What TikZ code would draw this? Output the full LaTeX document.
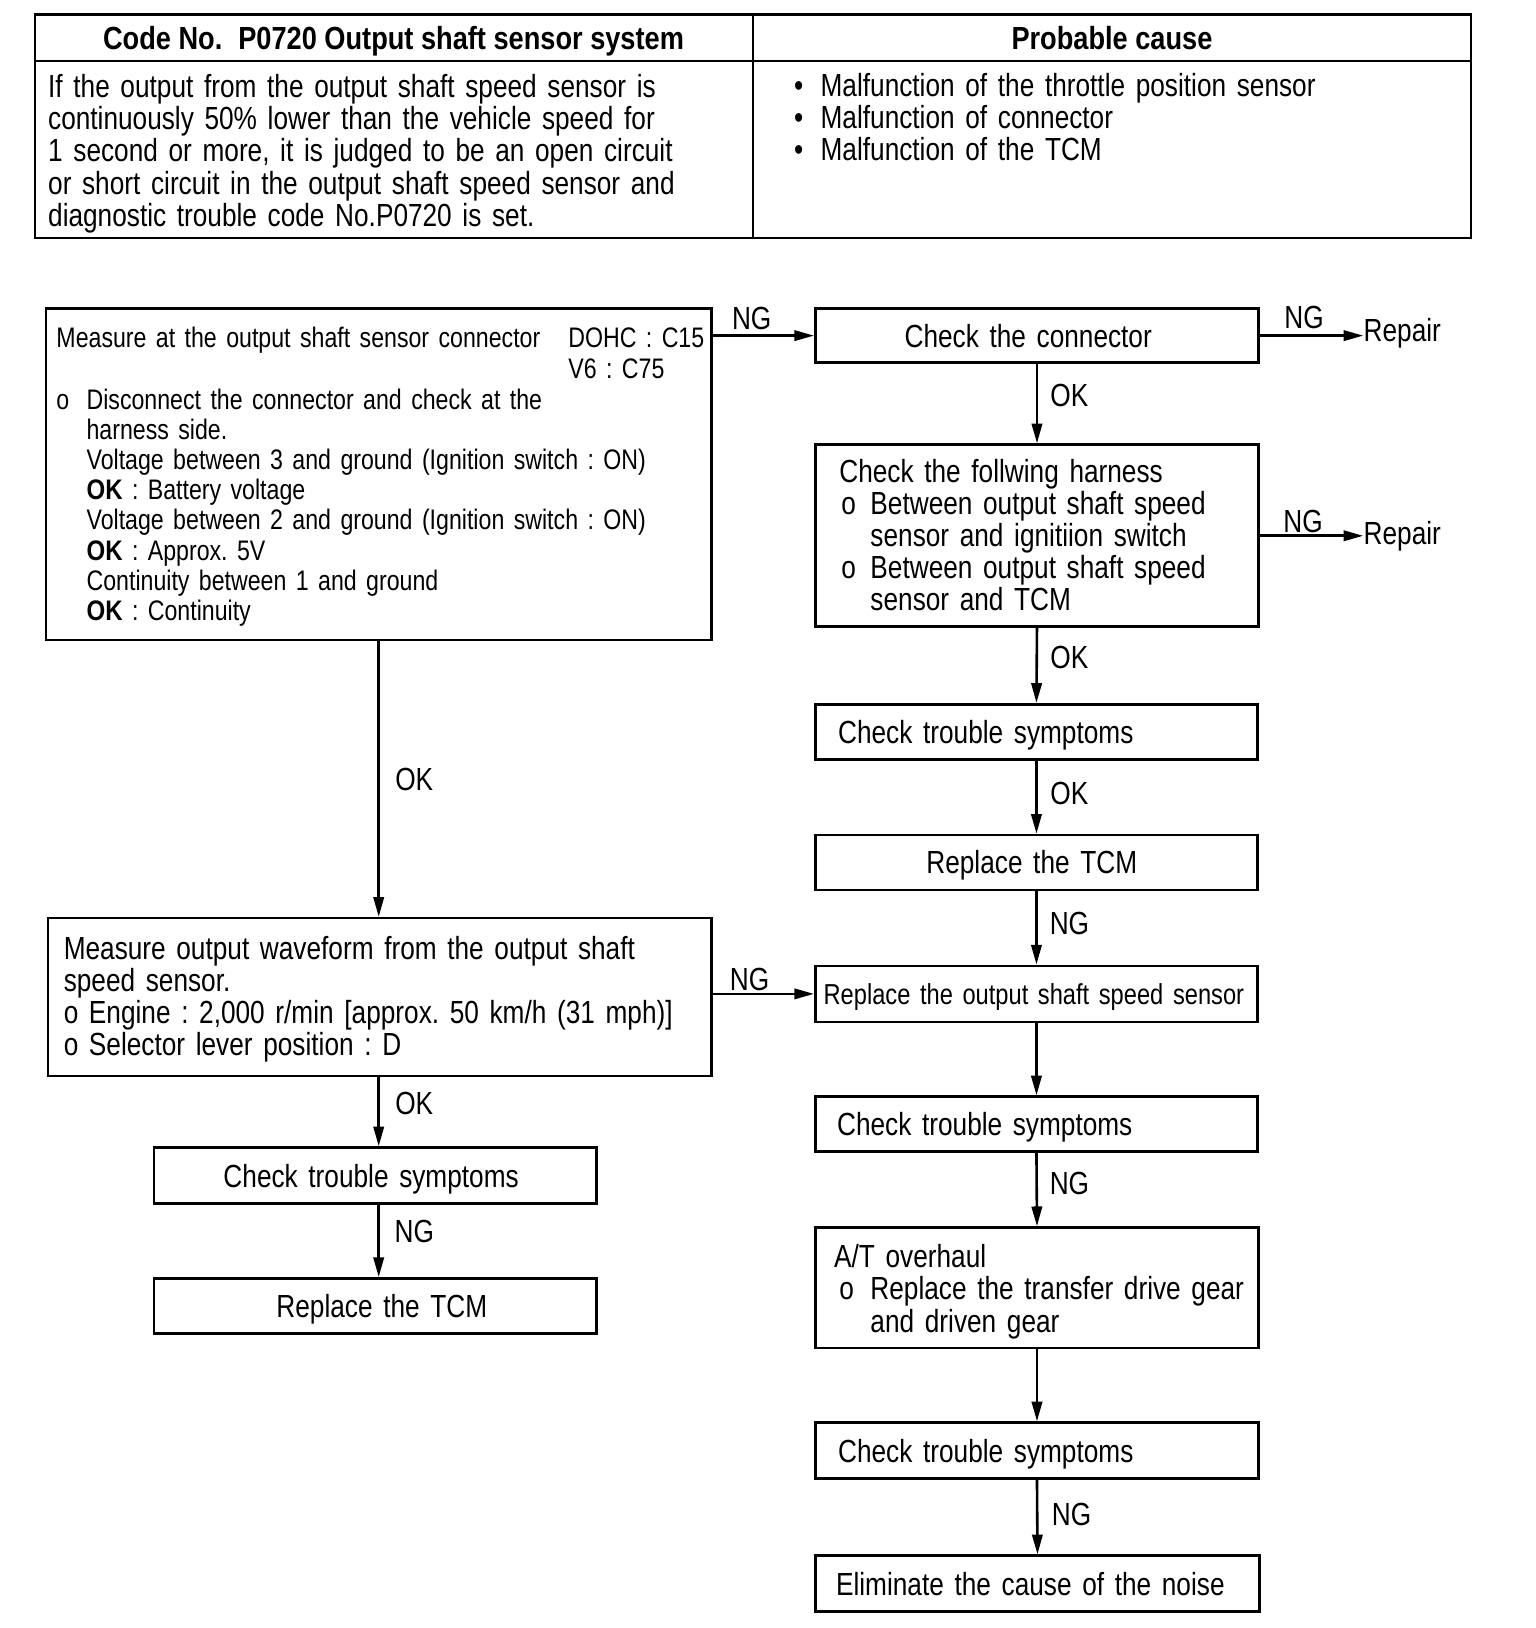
\documentclass[tikz,border=0pt]{standalone}
\usepackage{fontspec}
\setmainfont{Liberation Sans}[FakeStretch=0.82,BoldFeatures={FakeStretch=0.85}]
\frenchspacing
\usetikzlibrary{arrows.meta,calc}
\newcommand\myMainFont{\fontsize{15.4}{15.5}\selectfont}
\newcommand\mySmallFont{\fontsize{13.6}{14.55}\selectfont}
\begin{document}
\begin{tikzpicture}[x=0.5pt,y=-0.5pt,
  box/.style={draw,line width=1.25pt,inner ysep=0pt,anchor=north west,align=left,
    font=\myMainFont,text height=11pt,text depth=0pt},
  frame/.style={draw,line width=1.25pt,inner sep=0pt,anchor=north west},
  arr/.style={line width=1.25pt,-{Triangle[length=9.5pt,width=5pt]}},
  lbl/.style={inner sep=0pt,font=\myMainFont},
  txt/.style={inner sep=0pt,anchor=base west,align=left,font=\myMainFont},
  sm/.style={font=\mySmallFont},
]
\fill[white] (0,0) rectangle (1479,1568);
\useasboundingbox (0,0) rectangle (1479,1568);

% ---------- table ----------
\node[frame,line width=1pt,minimum width=691.5pt,minimum height=107.5pt] (tbl) at (33,13) {};
\draw[line width=1pt] (725,13) -- (725,228);
\draw[line width=1pt] (33,59) -- (1416,59);
\node[lbl,anchor=base,font=\myMainFont\bfseries] (h1) at (379,48) {Code No.\enspace P0720 Output shaft sensor system};
\node[lbl,anchor=base,font=\myMainFont\bfseries] (h2) at (1071,48) {Probable cause};
\node[txt,text width=400pt] (d1) at (46,94) {If the output from the output shaft speed sensor is\\
continuously 50\% lower than the vehicle speed for\\
1 second or more, it is judged to be an open circuit\\
or short circuit in the output shaft speed sensor and\\
diagnostic trouble code No.P0720 is set.};
\node[txt,text width=400pt] (d2) at (764.5,93) {\makebox[12.75pt][l]{•}Malfunction of the throttle position sensor\\
\makebox[12.75pt][l]{•}Malfunction of connector\\
\makebox[12.75pt][l]{•}Malfunction of the TCM};

% ---------- box 1 ----------
\node[frame,minimum width=320.5pt,minimum height=159.5pt] (b1) at (43,296) {};
\node[txt,sm,text width=300pt] (t1a) at (54,335) {Measure at the output shaft sensor connector};
\node[txt,sm,text width=80pt] (t1b) at (547,335) {DOHC : C15\\V6 : C75};
\node[txt,sm] (t1o) at (54,394) {o};
\node[txt,sm,text width=320pt] (t1c) at (83,394) {Disconnect the connector and check at the\\
harness side.\\
Voltage between 3 and ground (Ignition switch : ON)\\
\textbf{OK} : Battery voltage\\
Voltage between 2 and ground (Ignition switch : ON)\\
\textbf{OK} : Approx. 5V\\
Continuity between 1 and ground\\
\textbf{OK} : Continuity};

% ---------- right column ----------
\node[box,minimum width=213.5pt,minimum height=26pt,inner xsep=43pt,text width=127.5pt] (b2) at (784,296) {\mbox{Check the connector}};
\node[lbl,anchor=base west] (r1) at (1313,329) {Repair};

\node[frame,minimum width=213.5pt,minimum height=87.5pt] (b3) at (784,427) {};
\node[txt,text width=300pt,font=\fontsize{15.4}{15.4}\selectfont] (t3) at (808,465) {Check the follwing harness\\
\makebox[15pt][l]{\hspace{1pt}o}Between output shaft speed\\
\hspace*{15pt}sensor and ignitiion switch\\
\makebox[15pt][l]{\hspace{1pt}o}Between output shaft speed\\
\hspace*{15pt}sensor and TCM};
\node[lbl,anchor=base west] (r2) at (1313,524) {Repair};

\node[box,minimum width=213pt,minimum height=26.5pt,inner xsep=11pt,text width=191pt] (b4) at (784,677) {\mbox{Check trouble symptoms}};
\node[box,minimum width=213pt,minimum height=26.5pt,inner xsep=53.5pt,text width=106pt] (b5) at (784,803) {\mbox{Replace the TCM}};
\node[box,minimum width=213pt,minimum height=27pt,inner xsep=4pt,text width=205pt,font=\fontsize{13.9}{14}\selectfont,text height=10pt] (b6) at (784,929) {\mbox{Replace the output shaft speed sensor}};
\node[box,minimum width=213pt,minimum height=26.5pt,inner xsep=10.5pt,text width=192pt] (b8) at (784,1055) {\mbox{Check trouble symptoms}};
\node[frame,minimum width=213.5pt,minimum height=58pt] (b9) at (784,1181) {};
\node[txt,text width=300pt] (t9) at (803,1221) {A/T overhaul\\
\makebox[17.5pt][l]{\hspace{2.5pt}o}Replace the transfer drive gear\\
\hspace*{17.5pt}and driven gear};
\node[box,minimum width=213.5pt,minimum height=27pt,inner xsep=11pt,text width=191.5pt] (b10) at (784,1369) {\mbox{Check trouble symptoms}};
\node[box,minimum width=214pt,minimum height=27pt,inner xsep=10pt,text width=194pt] (b11) at (784,1497) {\mbox{Eliminate the cause of the noise}};

% ---------- left column ----------
\node[frame,minimum width=319.5pt,minimum height=76pt] (b7) at (45,883) {};
\node[txt,text width=330pt] (t7) at (61,924) {Measure output waveform from the output shaft\\
speed sensor.\\
o Engine : 2,000 r/min [approx. 50 km/h (31 mph)]\\
o Selector lever position : D};
\node[box,minimum width=213pt,minimum height=27pt,inner xsep=33.5pt,text width=146pt] (b12) at (147,1104) {\mbox{Check trouble symptoms}};
\node[box,minimum width=213pt,minimum height=26.5pt,inner xsep=59pt,text width=95pt] (b13) at (147,1230) {\mbox{Replace the TCM}};

% ---------- connectors ----------
\draw[arr] (b2.west -| b1.east) -- (b2.west);
\node[lbl] (n1) at (724,307) {NG};
\draw[arr] (b2.east) -- (b2.east -| r1.west);
\node[lbl] (n2) at (1256,306) {NG};
\draw[arr] (b2.south) -- (b3.north);
\node[lbl] (o1) at (1030,381) {OK};
\draw[arr] (r2.west -| b3.east) -- (r2.west);
\node[lbl] (n3) at (1255,502) {NG};
\draw[arr] (b3.south) -- (b4.north);
\node[lbl] (o2) at (1030,633) {OK};
\draw[arr] (b4.south) -- (b5.north);
\node[lbl] (o3) at (1030,764) {OK};
\draw[arr] (b5.south) -- (b6.north);
\node[lbl] (n4) at (1030,889) {NG};
\draw[arr] (b6.west -| b7.east) -- (b6.west);
\node[lbl] (n5) at (722,943) {NG};
\draw[arr] (b6.south) -- (b8.north);
\draw[arr] (b8.south) -- (b9.north);
\node[lbl] (n6) at (1030,1140) {NG};
\draw[arr] (b9.south) -- (b10.north);
\draw[arr] (b10.south) -- (b11.north);
\node[lbl] (n7) at (1032,1459) {NG};

\draw[arr] (b1.south) -- (b1.south |- b7.north);
\node[lbl] (o4) at (399,751) {OK};
\draw[arr] (b1.south |- b7.south) -- (b1.south |- b12.north);
\node[lbl] (o5) at (399,1063) {OK};
\draw[arr] (b1.south |- b12.south) -- (b1.south |- b13.north);
\node[lbl] (n8) at (399,1186) {NG};
\end{tikzpicture}
\end{document}
